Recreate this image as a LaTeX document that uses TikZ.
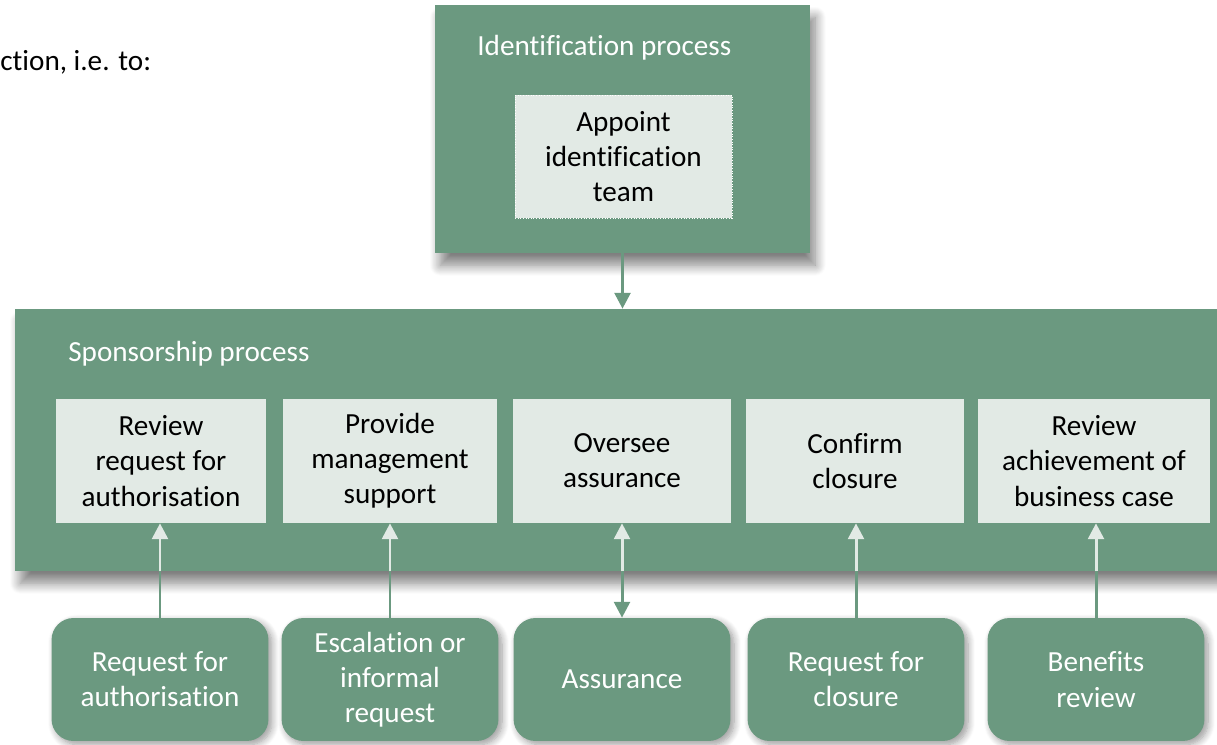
\documentclass[tikz,border=0pt]{standalone}
\usepackage{fontspec}
\setmainfont{Carlito}[Ligatures={NoCommon}]
\usepackage{tikz}
\usetikzlibrary{arrows.meta,shadows.blur}

\definecolor{procgreen}{HTML}{6B9980}
\definecolor{steplight}{HTML}{E2EAE5}

\tikzset{
  procbox/.style={fill=procgreen,draw=none,blur shadow={shadow xshift=3pt,shadow yshift=-7pt,shadow blur radius=6pt,shadow blur steps=12,shadow opacity=50}},
  stepbox/.style={fill=steplight,draw=none,align=center,text=black,minimum height=2.48cm,inner sep=0pt},
  inputbox/.style={fill=procgreen,draw=none,rounded corners=0.44cm,align=center,text=white,minimum width=4.34cm,minimum height=2.46cm,inner sep=0pt,
    blur shadow={shadow xshift=2pt,shadow yshift=-2pt,shadow blur radius=4pt,shadow blur steps=8,shadow opacity=40}},
  linkout/.style={draw=procgreen,line width=1.7pt},
  linkin/.style={draw=steplight,line width=1.7pt},
  tipout/.style={-{Triangle[width=9pt,length=9pt]}},
}

\begin{document}
\begin{tikzpicture}[x=0.02cm,y=-0.02cm,font=\fontsize{16.6pt}{20pt}\selectfont]
  \useasboundingbox (0,0) rectangle (1217,744);

  %% lead-in text
  \node[anchor=west,inner sep=0pt] (lead) at (0,62) {ction, i.e. to:};

  %% identification process
  \node[procbox,minimum width=7.5cm,minimum height=4.96cm] (ident) at (622.5,129) {};
  \node[anchor=west,inner sep=0pt,text=white] (identlbl) at (477,48) {Identification process};
  \node[stepbox,minimum width=4.34cm,minimum height=2.46cm,draw=white,densely dotted,line width=0.5pt] (appoint) at (623.5,156.5) {Appoint\\identification\\team};

  %% sponsorship process
  \node[procbox,minimum width=24.5cm,minimum height=5.24cm] (spons) at (627.5,440) {};
  \node[anchor=west,inner sep=0pt,text=white] (sponslbl) at (68,354) {Sponsorship process};

  \node[stepbox,minimum width=4.2cm] (revreq) at (161,461) {Review\\request for\\authorisation};
  \node[stepbox,minimum width=4.28cm] (provide) at (390,461) {Provide\\management\\support};
  \node[stepbox,minimum width=4.36cm] (oversee) at (622,461) {Oversee\\assurance};
  \node[stepbox,minimum width=4.36cm] (confirm) at (855,461) {Confirm\\closure};
  \node[stepbox,minimum width=4.64cm] (revach) at (1094,461) {Review\\achievement of\\business case};

  %% inputs
  \node[inputbox] (reqauth) at (160,679.5) {Request for\\authorisation};
  \node[inputbox] (escal) at (390,679.5) {Escalation or\\informal\\request};
  \node[inputbox] (assur) at (622,679.5) {Assurance};
  \node[inputbox] (reqclose) at (856,679.5) {Request for\\closure};
  \node[inputbox] (benefits) at (1096,679.5) {Benefits\\review};

  %% connectors
  \draw[linkout,tipout] (ident.south) -- (ident.south |- spons.north);

  \draw[linkout] (reqauth.north) -- (reqauth.north |- spons.south) coordinate (m1);
  \draw[linkin,tipout] (m1) -- (m1 |- revreq.south);
  \draw[linkout] (escal.north) -- (escal.north |- spons.south) coordinate (m2);
  \draw[linkin,tipout] (m2) -- (m2 |- provide.south);
  \draw[linkout,tipout] (assur.north |- spons.south) coordinate (m3) -- (assur.north);
  \draw[linkin,tipout] (m3) -- (m3 |- oversee.south);
  \draw[linkout] (reqclose.north) -- (reqclose.north |- spons.south) coordinate (m4);
  \draw[linkin,tipout] (m4) -- (m4 |- confirm.south);
  \draw[linkout] (benefits.north) -- (benefits.north |- spons.south) coordinate (m5);
  \draw[linkin,tipout] (m5) -- (m5 |- revach.south);
\end{tikzpicture}
\end{document}
